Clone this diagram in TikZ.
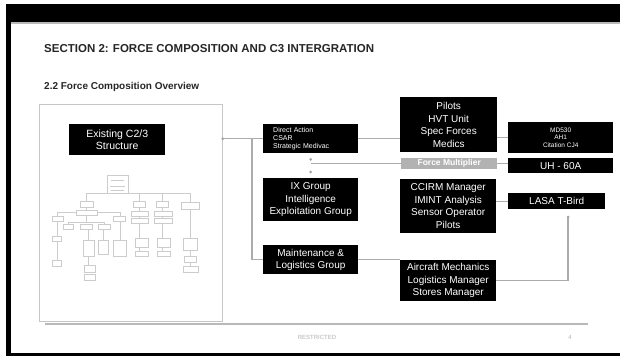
\documentclass[tikz,border=0pt]{standalone}
\usepackage{fontspec}
\setmainfont{Liberation Sans}
\begin{document}
\begin{tikzpicture}[x=1pt,y=-1pt,
  blk/.style={fill=black, text=white, inner sep=0pt, align=center, anchor=north west, font=\fontsize{10}{12.5}\selectfont},
  conn/.style={draw=gray!65, line width=1.3pt},
  org/.style={draw=gray!40, line width=0.5pt},
  orgbox/.style={draw=gray!40, line width=0.5pt, fill=white},
  dotmark/.style={fill=gray!70}]
\useasboundingbox (0,0) rectangle (620,356);
\fill[white] (0,0) rectangle (620,356);
% frame
\fill[black] (6,4) rectangle (620,22);
\fill[gray!55] (6,22) rectangle (620,24);
\fill[black] (6,4) rectangle (11,356);
\fill[black] (6,353) rectangle (620,356);
% headings
\node[anchor=base west, inner sep=0pt, text=black!85, font=\fontsize{11.5}{13}\selectfont\bfseries] (title) at (44,52.5) {SECTION 2: FORCE COMPOSITION AND C3 INTERGRATION};
\node[anchor=base west, inner sep=0pt, text=black!85, font=\fontsize{10}{11}\selectfont\bfseries] (sub) at (44,89) {2.2 Force Composition Overview};
% left box
\node[draw=gray!45, fill=white, line width=0.8pt, minimum width=183pt, minimum height=217pt, anchor=north west, inner sep=0pt] (leftbox) at (39,104) {};
\node[blk, minimum width=96pt, minimum height=31pt, font=\fontsize{10.5}{12}\selectfont] (exist) at (69,124) {Existing C2/3\\Structure};
% miniature org chart
\draw[org] (86,193) -- (190,193);
\draw[org] (86,193) -- (86,201) (139,193) -- (139,201) (162,193) -- (162,201) (190,193) -- (190,202);
\draw[org] (86,207) -- (86,222) (57,212) -- (120,212) (57,212) -- (57,260) (120,212) -- (120,240);
\draw[org] (68,222) -- (104,222) (68,222) -- (68,224) (104,222) -- (104,224);
\draw[org] (88,229) -- (88,272) (103,229) -- (103,240);
\draw[org] (139,207) -- (139,251) (162,207) -- (162,251) (190,209) -- (190,266);
\draw[orgbox] (107,175) rectangle (128,193);
\draw[org] (111,180) -- (124,180) (110,186) -- (125,186) (111,190) -- (124,190);
\draw[orgbox] (80,201) rectangle (93,207);
\draw[orgbox] (133,201) rectangle (145,207);
\draw[orgbox] (156,201) rectangle (168,207);
\draw[orgbox] (181,202) rectangle (199,209);
\draw[orgbox] (76,210) rectangle (97,215);
\draw[orgbox] (52,216) rectangle (63,221);
\draw[orgbox] (113,216) rectangle (125,221);
\draw[orgbox] (63,224) rectangle (73,229);
\draw[orgbox] (80,224) rectangle (92,229);
\draw[orgbox] (98,224) rectangle (110,229);
\draw[orgbox] (52,236) rectangle (61,241);
\draw[orgbox] (83,240) rectangle (94,256);
\draw[orgbox] (98,240) rectangle (108,254);
\draw[orgbox] (113,240) rectangle (126,256);
\draw[orgbox] (52,260) rectangle (61,266);
\draw[orgbox] (84,265) rectangle (95,272);
\draw[orgbox] (84,274) rectangle (95,280);
\draw[orgbox] (131,211) rectangle (148,216);
\draw[orgbox] (131,218) rectangle (148,223);
\draw[orgbox] (135,238) rectangle (148,247);
\draw[orgbox] (135,251) rectangle (148,256);
\draw[orgbox] (154,211) rectangle (172,216);
\draw[orgbox] (154,218) rectangle (172,223);
\draw[orgbox] (157,238) rectangle (170,247);
\draw[orgbox] (157,251) rectangle (170,256);
\draw[orgbox] (183,238) rectangle (197,250);
\draw[orgbox] (184,256) rectangle (196,262);
\draw[orgbox] (183,266) rectangle (198,272);
% main boxes
\node[blk, align=left, text width=75pt, inner xsep=10pt, minimum height=29pt, font=\fontsize{7}{8}\selectfont] (da) at (263,124) {Direct Action\\CSAR\\Strategic Medivac};
\node[blk, minimum width=97pt, minimum height=55pt] (pilots) at (400,97) {Pilots\\HVT Unit\\Spec Forces\\Medics};
\node[blk, minimum width=105pt, minimum height=31pt, font=\fontsize{6.5}{7.5}\selectfont] (md) at (508,122) {MD530\\AH1\\Citation CJ4};
\node[blk, fill=gray!60, minimum width=96pt, minimum height=11pt, font=\fontsize{8.5}{10}\selectfont\bfseries] (fm) at (401,158) {Force Multiplier};
\node[blk, minimum width=105pt, minimum height=15pt] (uh) at (508,158) {UH - 60A};
\node[blk, minimum width=95pt, minimum height=43pt] (ix) at (263,178) {IX Group\\Intelligence\\Exploitation Group};
\node[blk, minimum width=96pt, minimum height=54pt] (ccirm) at (400,179) {CCIRM Manager\\IMINT Analysis\\Sensor Operator\\Pilots};
\node[blk, minimum width=97pt, minimum height=16pt] (lasa) at (508,193) {LASA T-Bird};
\node[blk, minimum width=95pt, minimum height=29pt] (maint) at (263,245) {Maintenance \&\\Logistics Group};
\node[blk, minimum width=96pt, minimum height=41pt] (air) at (400,260) {Aircraft Mechanics\\Logistics Manager\\Stores Manager};
% connectors
\coordinate (jx) at (252,140);
\coordinate (lend) at (568,217);
\draw[conn] (da.west) -- (leftbox.east |- da.west);
\fill[dotmark] (leftbox.east |- da.west) circle (1.6pt);
\draw[conn] (jx |- da.west) |- (maint.west);
\draw[conn] (da.east) -- (da.east -| pilots.west);
\draw[conn] (md.west -| pilots.east) -- (md.west);
\draw[conn] (fm.east) -- (fm.east -| uh.west);
\draw[conn] (fm.west) -- (da.south |- fm.west);
\fill[dotmark] ([yshift=-6pt]da.south) circle (1.5pt);
\fill[dotmark] ([yshift=6pt]ix.north) circle (1.5pt);
\draw[conn] (lasa.west) -- (lasa.west -| ccirm.east);
\draw[conn] (maint.east) -- (maint.east -| air.west);
\draw[conn] (air.east) -| (lend);
\fill[dotmark] (lend) circle (1.5pt);
% footer
\draw[gray!55, line width=1.6pt] (45,324) -- (588,324);
\node[inner sep=0pt, text=gray!60, font=\fontsize{6}{7}\selectfont] (restr) at (317,337) {RESTRICTED};
\node[inner sep=0pt, text=gray!60, font=\fontsize{6}{7}\selectfont] (pnum) at (570,337) {4};
\end{tikzpicture}
\end{document}
